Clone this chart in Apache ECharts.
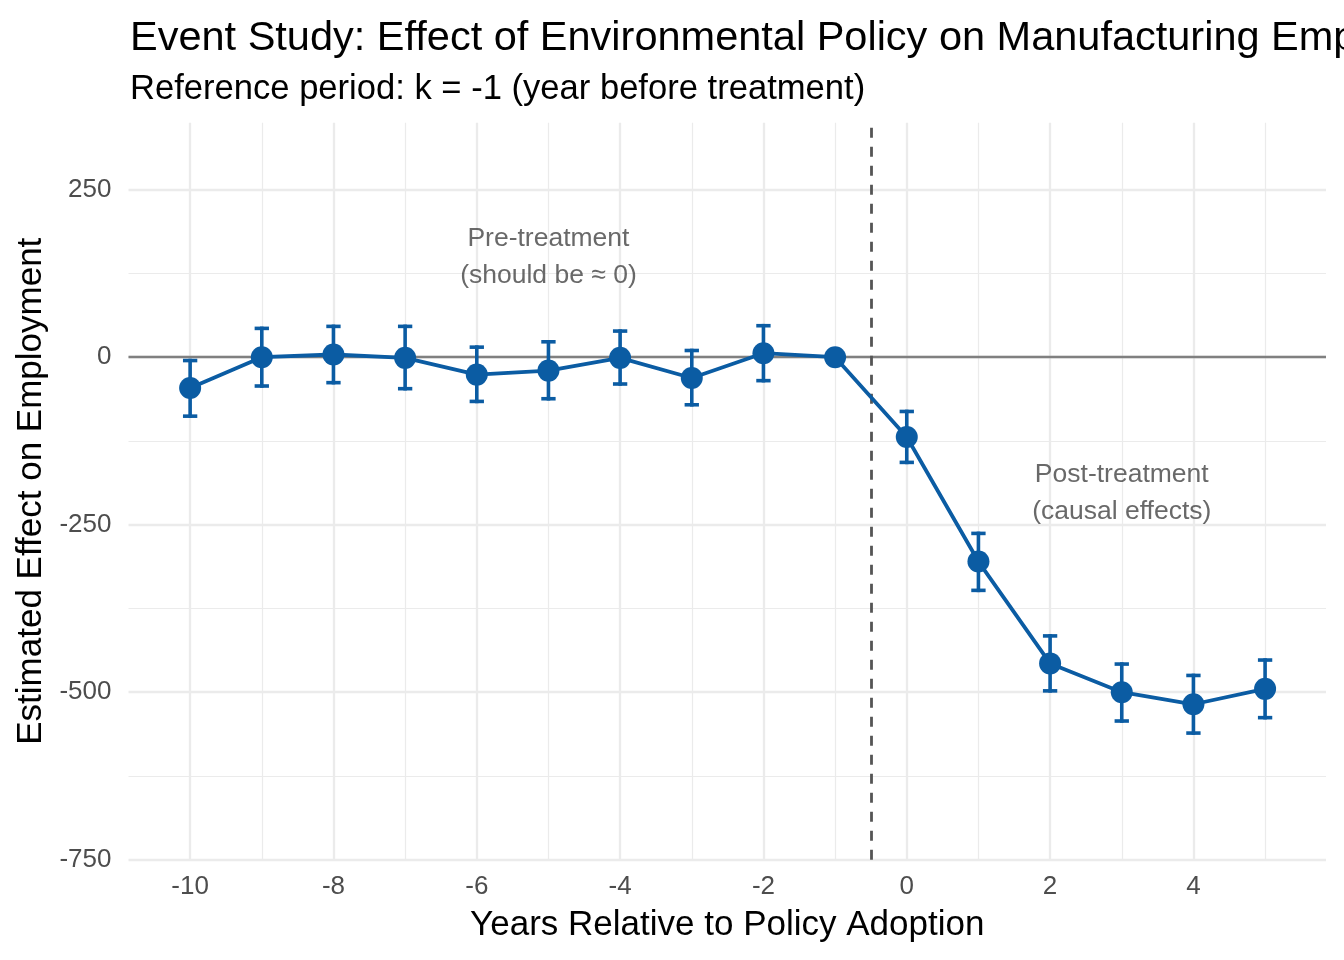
<!DOCTYPE html>
<html>
<head>
<meta charset="utf-8">
<script src="https://cdn.jsdelivr.net/npm/echarts@6/dist/echarts.min.js"></script>
<style>
html,body{margin:0;padding:0;background:#fff;}
#chart{width:1344px;height:960px;}
</style>
</head>
<body>
<div id="chart"></div>
<script>
const years = [-10, -9, -8, -7, -6, -5, -4, -3, -2, -1, 0, 1, 2, 3, 4, 5];
const estimate = [-46, 0, 4, -1, -26, -20, -1, -31, 6, 0, -119, -305, -457, -500, -518, -495];
const ciLower = [-88, -43, -38, -47, -66, -62, -40, -71, -35, null, -157, -348, -498, -543, -561, -538];
const ciUpper = [-5, 43, 46, 46, 15, 23, 39, 10, 47, null, -81, -263, -416, -458, -475, -452];
const xTicks = [-10, -8, -6, -4, -2, 0, 2, 4];
const xMinor = [-9, -7, -5, -3, -1, 1, 3, 5];
const yTicks = [-750, -500, -250, 0, 250];
const yMinor = [-625, -375, -125, 125];
const treatmentLine = -0.5;
const annoX = [-5, 3];
const annoY = [150, -203];
const annoText = ['Pre-treatment\n(should be \u2248 0)', 'Post-treatment\n(causal effects)'];
const titleText = 'Event Study: Effect of Environmental Policy on Manufacturing Employment';
const subtitleText = 'Reference period: k = -1 (year before treatment)';

const FONT = '"Liberation Sans", Arial, Helvetica, sans-serif';
const BLUE = '#0b5ca3';
const GRID = '#ebebeb';

const chart = echarts.init(document.getElementById('chart'), null, {renderer: 'canvas'});

const lineData = years.map((y, i) => [y, estimate[i]]);
const ebData = [];
years.forEach((y, i) => { if (ciLower[i] !== null) ebData.push([y, ciLower[i], ciUpper[i]]); });
const annoData = annoX.map((x, i) => [x, annoY[i], annoText[i]]);

function vlines(vals) { return vals.map(v => ({xAxis: v})); }
function hlines(vals) { return vals.map(v => ({yAxis: v})); }

const EBW = 3.6;

const option = {
  backgroundColor: '#ffffff',
  animation: false,
  title: [
    {text: titleText, left: 130, top: 18, padding: 0,
     textStyle: {fontSize: 41.5, fontWeight: 'normal', color: '#000', fontFamily: FONT, lineHeight: 41.5}},
    {text: subtitleText, left: 130, top: 72, padding: 0,
     textStyle: {fontSize: 34.6, fontWeight: 'normal', color: '#000', fontFamily: FONT, lineHeight: 34.6}}
  ],
  grid: {left: 128.5, right: 18, top: 122.7, bottom: 100.3, containLabel: false},
  xAxis: {
    type: 'value', min: -10.86, max: 5.85,
    name: 'Years Relative to Policy Adoption', nameLocation: 'middle', nameGap: 48,
    nameTextStyle: {fontSize: 35, color: '#000', fontFamily: FONT, lineHeight: 35},
    axisLine: {show: false}, axisTick: {show: false}, splitLine: {show: false},
    axisLabel: {customValues: xTicks, fontSize: 26, color: '#4d4d4d', fontFamily: FONT, margin: 14, lineHeight: 26}
  },
  yAxis: {
    type: 'value', min: -750, max: 350,
    name: 'Estimated Effect on Employment', nameLocation: 'middle', nameGap: 78, nameRotate: 90,
    nameTextStyle: {fontSize: 35, color: '#000', fontFamily: FONT, lineHeight: 35},
    axisLine: {show: false}, axisTick: {show: false}, splitLine: {show: false},
    axisLabel: {customValues: yTicks, fontSize: 26, color: '#4d4d4d', fontFamily: FONT, margin: 17}
  },
  series: [
    {type: 'line', data: [], silent: true, z: 1,
     markLine: {z: 1, silent: true, symbol: 'none', label: {show: false}, animation: false,
       lineStyle: {color: GRID, width: 1.2, type: 'solid'}, data: vlines(xMinor).concat(hlines(yMinor))}},
    {type: 'line', data: [], silent: true, z: 1,
     markLine: {z: 1, silent: true, symbol: 'none', label: {show: false}, animation: false,
       lineStyle: {color: GRID, width: 2.3, type: 'solid'}, data: vlines(xTicks).concat(hlines(yTicks))}},
    {type: 'line', data: [], silent: true, z: 2,
     markLine: {z: 2, silent: true, symbol: 'none', label: {show: false}, animation: false,
       lineStyle: {color: '#808080', width: 2.4, type: 'solid'}, data: hlines([0])}},
    {type: 'line', data: [], silent: true, z: 2,
     markLine: {z: 2, silent: true, symbol: 'none', label: {show: false}, animation: false,
       lineStyle: {color: '#555555', width: 2.8, type: [10, 9]}, data: vlines([treatmentLine])}},
    {type: 'custom', z: 3, silent: true, data: ebData,
     renderItem: function (params, api) {
       const x = api.value(0), lo = api.value(1), hi = api.value(2);
       const pLo = api.coord([x, lo]);
       const pHi = api.coord([x, hi]);
       const hw = api.size([0.1, 0])[0];
       const h = EBW / 2;
       return {type: 'group', children: [
         {type: 'rect', shape: {x: pLo[0] - h, y: pHi[1] - h, width: EBW, height: pLo[1] - pHi[1] + EBW}, style: {fill: BLUE}},
         {type: 'rect', shape: {x: pLo[0] - hw, y: pLo[1] - h, width: 2 * hw, height: EBW}, style: {fill: BLUE}},
         {type: 'rect', shape: {x: pHi[0] - hw, y: pHi[1] - h, width: 2 * hw, height: EBW}, style: {fill: BLUE}}
       ]};
     }},
    {type: 'line', z: 4, data: lineData, symbol: 'circle', symbolSize: 22, showAllSymbol: true,
     lineStyle: {color: BLUE, width: 3.8}, itemStyle: {color: BLUE, borderWidth: 0}, silent: true},
    {type: 'scatter', z: 5, data: annoData, symbolSize: 0, silent: true,
     label: {show: true, position: 'inside', formatter: p => p.value[2],
       fontSize: 26.5, lineHeight: 37, color: '#444444', fontFamily: FONT, align: 'center', verticalAlign: 'middle'}}
  ]
};
chart.setOption(option);
</script>
</body>
</html>
